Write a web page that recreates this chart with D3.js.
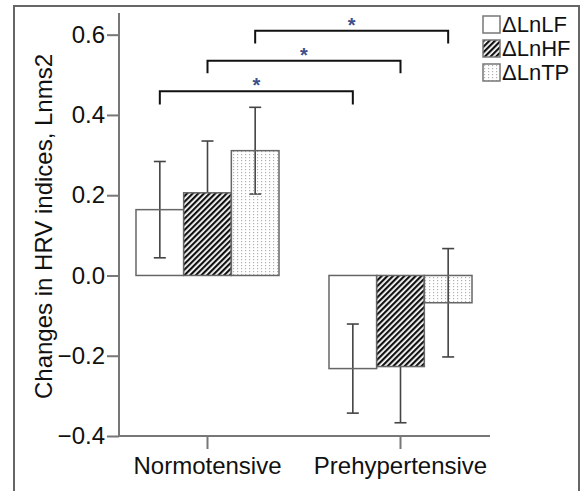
<!DOCTYPE html>
<html>
<head>
<meta charset="utf-8">
<script src="https://cdn.jsdelivr.net/npm/d3@7"></script>
<style>
  body { margin: 0; background: #fff; }
  text { font-family: "Liberation Sans", Arial, sans-serif; }
</style>
</head>
<body>
<div id="chart"></div>
<script>
// data
var groups = ["Normotensive", "Prehypertensive"];
var series = ["ΔLnLF", "ΔLnHF", "ΔLnTP"];
var meanLF = [0.164, -0.232];
var meanHF = [0.206, -0.227];
var meanTP = [0.311, -0.068];
var seLF = [0.120, 0.111];
var seHF = [0.129, 0.140];
var seTP = [0.108, 0.135];
var yTicks = [-0.4, -0.2, 0.0, 0.2, 0.4, 0.6];
// significance brackets: series index, bracket level, leg end
var sigSeries = [0, 1, 2];
var sigLevel = [0.459, 0.535, 0.610];
var sigLeg = [0.426, 0.504, 0.578];

var means = [meanLF, meanHF, meanTP];
var ses = [seLF, seHF, seTP];

var W = 583, H = 491;
var svg = d3.select("#chart").append("svg")
    .attr("width", W).attr("height", H);

// patterns
var defs = svg.append("defs");
var hatch = defs.append("pattern")
    .attr("id", "hatch")
    .attr("patternUnits", "userSpaceOnUse")
    .attr("width", 4).attr("height", 4)
    .attr("patternTransform", "rotate(45)");
hatch.append("rect").attr("width", 4).attr("height", 4).attr("fill", "#fff");
hatch.append("line").attr("x1", 1).attr("y1", 0).attr("x2", 1).attr("y2", 4)
    .attr("stroke", "#111").attr("stroke-width", 2.4);

var dots = defs.append("pattern")
    .attr("id", "dots")
    .attr("patternUnits", "userSpaceOnUse")
    .attr("width", 4).attr("height", 3);
dots.append("rect").attr("x", 1).attr("y", 1).attr("width", 1.2).attr("height", 1.2).attr("fill", "#b0b0b0");

var fills = ["none", "url(#hatch)", "url(#dots)"];
var legFills = ["#fff", "url(#hatch)", "url(#dots)"];

// outer frame
svg.append("rect")
    .attr("x", 14).attr("y", 6).attr("width", 565).attr("height", 500)
    .attr("fill", "none").attr("stroke", "#666").attr("stroke-width", 2);

var x0 = d3.scaleBand().domain(groups).range([111, 497])
    .paddingInner(0.259).paddingOuter(0.1295);
var x1 = d3.scaleBand().domain(series).range([0, x0.bandwidth()]);
var y = d3.scaleLinear().domain([-0.4, 0.654]).range([436, 13]);

var barData = [];
groups.forEach(function(g, gi) {
    series.forEach(function(s, si) {
        barData.push({g: g, s: s, si: si, v: means[si][gi], e: ses[si][gi]});
    });
});

// error bars (behind the bars, so the hatch hides them)
var cx = function(d) { return x0(d.g) + x1(d.s) + x1.bandwidth() / 2; };
var eb = svg.selectAll(".err").data(barData).enter().append("g")
    .attr("stroke", "#444").attr("stroke-width", 1.6);
eb.append("line")
    .attr("x1", cx).attr("x2", cx)
    .attr("y1", function(d) { return y(d.v + d.e); })
    .attr("y2", function(d) { return y(d.v - d.e); });
eb.append("line")
    .attr("x1", function(d) { return cx(d) - 6; }).attr("x2", function(d) { return cx(d) + 6; })
    .attr("y1", function(d) { return y(d.v + d.e); })
    .attr("y2", function(d) { return y(d.v + d.e); });
eb.append("line")
    .attr("x1", function(d) { return cx(d) - 6; }).attr("x2", function(d) { return cx(d) + 6; })
    .attr("y1", function(d) { return y(d.v - d.e); })
    .attr("y2", function(d) { return y(d.v - d.e); });

// bars
svg.selectAll(".bar").data(barData).enter().append("rect")
    .attr("class", "bar")
    .attr("x", function(d) { return x0(d.g) + x1(d.s); })
    .attr("width", x1.bandwidth())
    .attr("y", function(d) { return y(Math.max(0, d.v)); })
    .attr("height", function(d) { return Math.abs(y(d.v) - y(0)); })
    .attr("fill", function(d) { return fills[d.si]; })
    .attr("stroke", "#666").attr("stroke-width", 1.5);

// y axis
var yAxis = svg.append("g")
    .attr("transform", "translate(119,0)")
    .call(d3.axisLeft(y).tickValues(yTicks).tickSize(12).tickPadding(2)
        .tickFormat(function(d) { return d3.format(".1f")(d).replace("-", "\u2212"); }));
yAxis.select(".domain").attr("stroke", "#777").attr("stroke-width", 2)
    .attr("d", "M0," + y(0.654) + "V" + y(-0.4));
yAxis.selectAll(".tick line").attr("stroke", "#777").attr("stroke-width", 2);
yAxis.selectAll(".tick text").attr("font-size", 24).attr("fill", "#111")
    .attr("font-family", "Liberation Sans, Arial, sans-serif");

// x axis
var xAxis = svg.append("g")
    .attr("transform", "translate(0," + y(-0.4) + ")")
    .call(d3.axisBottom(x0).tickSize(13).tickPadding(8));
xAxis.select(".domain").attr("stroke", "#777").attr("stroke-width", 2)
    .attr("d", "M119,0H490");
xAxis.selectAll(".tick line").attr("stroke", "#777").attr("stroke-width", 2);
xAxis.selectAll(".tick text").attr("font-size", 24).attr("fill", "#111")
    .attr("font-family", "Liberation Sans, Arial, sans-serif");

// y label
svg.append("text")
    .attr("transform", "translate(52," + ((y(0.654) + y(-0.4)) / 2 + 2) + ") rotate(-90)")
    .attr("text-anchor", "middle")
    .attr("font-size", 24).attr("fill", "#111")
    .text("Changes in HRV indices, Lnms2");

// significance brackets
var sig = svg.selectAll(".sig").data(sigSeries).enter().append("g");
sig.append("path")
    .attr("fill", "none").attr("stroke", "#111").attr("stroke-width", 2)
    .attr("d", function(si, i) {
        var a = x0(groups[0]) + x1(series[si]) + x1.bandwidth() / 2;
        var b = x0(groups[1]) + x1(series[si]) + x1.bandwidth() / 2;
        return "M" + a + "," + y(sigLeg[i]) + "V" + y(sigLevel[i]) + "H" + b + "V" + y(sigLeg[i]);
    });
sig.append("text")
    .attr("x", function(si) {
        var a = x0(groups[0]) + x1(series[si]) + x1.bandwidth() / 2;
        var b = x0(groups[1]) + x1(series[si]) + x1.bandwidth() / 2;
        return (a + b) / 2;
    })
    .attr("y", function(si, i) { return y(sigLevel[i]) + 1; })
    .attr("text-anchor", "middle")
    .attr("font-size", 20).attr("font-weight", "bold")
    .attr("fill", "#3a4f8c")
    .text("*");

// legend
var legend = svg.append("g").attr("transform", "translate(483,16)");
var li = legend.selectAll("g").data(series).enter().append("g")
    .attr("transform", function(d, i) { return "translate(0," + (i * 24) + ")"; });
li.append("rect").attr("width", 17).attr("height", 17)
    .attr("fill", function(d, i) { return legFills[i]; })
    .attr("stroke", "#777").attr("stroke-width", 1.5);
li.append("text").attr("x", 19).attr("y", 16)
    .attr("font-size", 22).attr("fill", "#111")
    .text(function(d) { return d; });
</script>
</body>
</html>
